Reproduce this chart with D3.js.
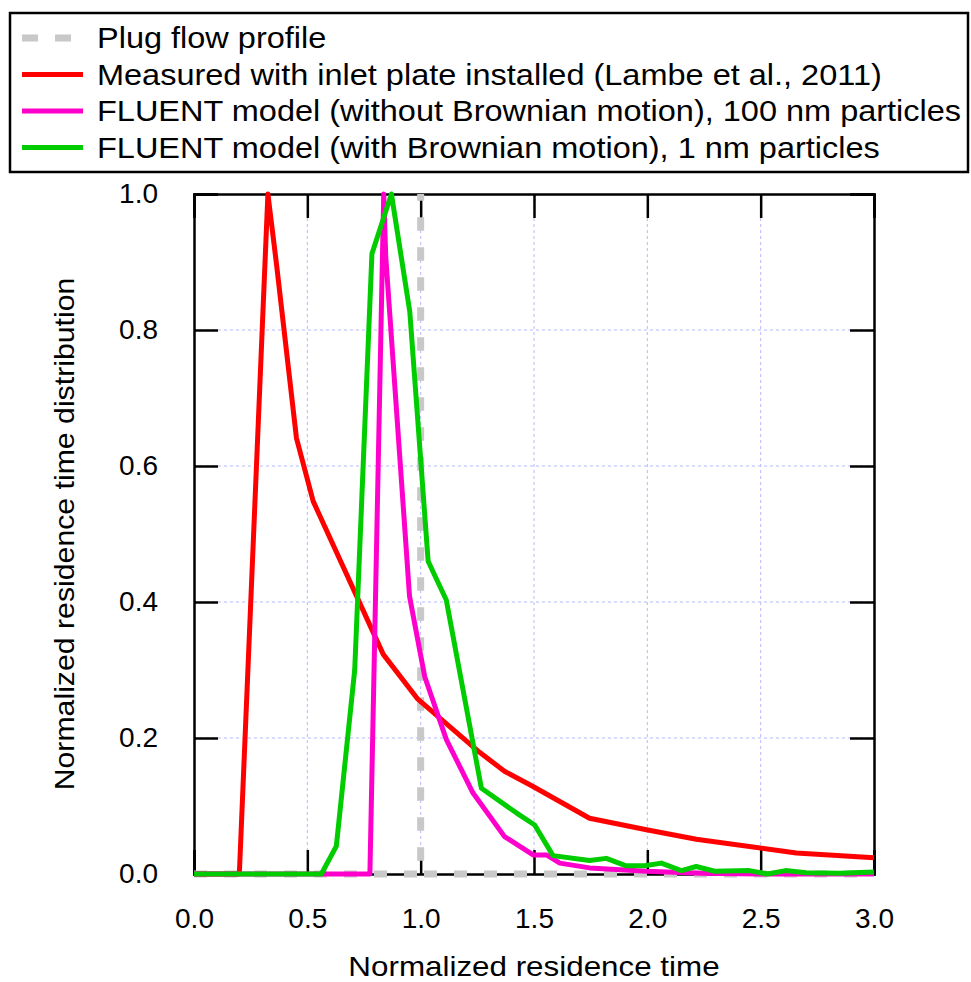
<!DOCTYPE html>
<html>
<head>
<meta charset="utf-8">
<script src="https://cdn.jsdelivr.net/npm/d3@7"></script>
<style>
  body { margin: 0; background: #fff; }
  text { font-family: 'Liberation Sans', Arial, sans-serif; }
</style>
</head>
<body>
<div id="rtd-graph"></div>
<script>
// series: [normalized residence time, normalized RTD]
var plugFlow = [[0, 0], [1.0, 0], [1.0, 1.0], [1.0, 0], [3.0, 0]]
var measured = [
  [0, 0], [0.2, 0], [0.326, 1.0], [0.365, 0.894], [0.452, 0.641], [0.526, 0.548],
  [0.835, 0.323], [0.985, 0.258], [1.26, 0.179], [1.37, 0.151], [1.494, 0.129],
  [1.745, 0.082], [1.996, 0.065], [2.216, 0.051], [2.657, 0.031], [3.0, 0.024]
]
var fluent100 = [
  [0, 0], [0.776, 0], [0.837, 1.0], [0.846, 0.908], [0.951, 0.408], [1.018, 0.29],
  [1.113, 0.198], [1.231, 0.119], [1.37, 0.055], [1.496, 0.028], [1.555, 0.028],
  [1.614, 0.016], [1.745, 0.009], [1.996, 0.004], [2.24, 0.001], [2.5, 0], [3.0, 0]
]
var fluent1 = [
  [0, 0], [0.562, 0], [0.628, 0.041], [0.709, 0.30], [0.785, 0.912], [0.871, 1.0],
  [0.952, 0.827], [1.033, 0.46], [1.113, 0.403], [1.268, 0.126], [1.422, 0.09],
  [1.503, 0.072], [1.584, 0.027], [1.745, 0.02], [1.819, 0.023], [1.907, 0.012],
  [1.988, 0.012], [2.062, 0.016], [2.15, 0.005], [2.216, 0.011], [2.297, 0.004],
  [2.45, 0.005], [2.53, 0], [2.61, 0.005], [2.7, 0.002], [2.85, 0.001], [3.0, 0.003]
]
var legendLabels = [
  'Plug flow profile',
  'Measured with inlet plate installed (Lambe et al., 2011)',
  'FLUENT model (without Brownian motion), 100 nm particles',
  'FLUENT model (with Brownian motion), 1 nm particles'
]
var xTicks = [0, 0.5, 1.0, 1.5, 2.0, 2.5, 3.0]
var yTicks = [0, 0.2, 0.4, 0.6, 0.8, 1.0]

var rtd_margin = { top: 194, bottom: 108, left: 194, right: 97 }
var rtd_width = 680
var rtd_height = 680
// the original text is set a bit wider than Arial
var stretch = 1.12

var svg = d3
  .select('#rtd-graph')
  .append('svg')
  .attr('width', 971)
  .attr('height', 982)

var g = svg
  .append('g')
  .attr('transform', 'translate(' + rtd_margin.left + ',' + rtd_margin.top + ')')

var x = d3.scaleLinear().domain([0, 3]).range([0, rtd_width])
var y = d3.scaleLinear().domain([0, 1]).range([rtd_height, 0])

function widen(sel, k) {
  sel.each(function () {
    var w = this.getComputedTextLength()
    d3.select(this).attr('textLength', w * (k || stretch)).attr('lengthAdjust', 'spacingAndGlyphs')
  })
}

// grid
g.append('g')
  .selectAll('line')
  .data(xTicks.slice(1, -1))
  .enter()
  .append('line')
  .attr('x1', d => x(d)).attr('x2', d => x(d))
  .attr('y1', 0).attr('y2', rtd_height)
  .attr('stroke', '#b8b8ff').attr('stroke-width', 1).attr('stroke-dasharray', '3,3')

g.append('g')
  .selectAll('line')
  .data(yTicks.slice(1, -1))
  .enter()
  .append('line')
  .attr('y1', d => y(d)).attr('y2', d => y(d))
  .attr('x1', 0).attr('x2', rtd_width)
  .attr('stroke', '#b8b8ff').attr('stroke-width', 1).attr('stroke-dasharray', '3,3')

// axes: inward ticks on all four sides
var tickLen = 24
g.append('g')
  .attr('transform', 'translate(0,' + rtd_height + ')')
  .call(d3.axisBottom(x).tickValues(xTicks).tickSize(-tickLen).tickPadding(tickLen + 10).tickFormat(d3.format('.1f')))
g.append('g')
  .call(d3.axisTop(x).tickValues(xTicks).tickSize(-tickLen).tickFormat(''))
g.append('g')
  .call(d3.axisLeft(y).tickValues(yTicks).tickSize(-tickLen).tickPadding(tickLen + 12).tickFormat(d3.format('.1f')))
g.append('g')
  .attr('transform', 'translate(' + rtd_width + ',0)')
  .call(d3.axisRight(y).tickValues(yTicks).tickSize(-tickLen).tickFormat(''))

g.selectAll('.domain').attr('stroke', '#000').attr('stroke-width', 2.5)
g.selectAll('.tick line').attr('stroke', '#000').attr('stroke-width', 2.5)
g.selectAll('.tick text')
  .attr('font-size', 28)
  .attr('fill', '#000')
  .style('font-family', "'Liberation Sans', Arial, sans-serif")

// series
var line = d3.line().x(d => x(d[0])).y(d => y(d[1]))

g.append('path')
  .datum(plugFlow)
  .attr('d', line)
  .attr('fill', 'none')
  .attr('stroke', '#c8c8c8')
  .attr('stroke-width', 7)
  .attr('stroke-dasharray', '13,17')

var series = [
  { data: measured, color: '#ff0000' },
  { data: fluent100, color: '#ff00cc' },
  { data: fluent1, color: '#00cc00' }
]
series.forEach(s => {
  g.append('path')
    .datum(s.data)
    .attr('d', line)
    .attr('fill', 'none')
    .attr('stroke', s.color)
    .attr('stroke-width', 5)
    .attr('stroke-linejoin', 'round')
})

// axis titles
svg.append('text')
  .attr('x', rtd_margin.left + rtd_width / 2)
  .attr('y', 976)
  .attr('text-anchor', 'middle')
  .attr('font-size', 28)
  .text('Normalized residence time')
  .call(widen)

svg.append('text')
  .attr('transform', 'translate(74,' + (rtd_margin.top + rtd_height / 2) + ') rotate(-90)')
  .attr('text-anchor', 'middle')
  .attr('font-size', 28)
  .text('Normalized residence time distribution')
  .call(widen, 1.08)

// legend
var legend = svg.append('g')
legend.append('rect')
  .attr('x', 10).attr('y', 13)
  .attr('width', 958).attr('height', 159)
  .attr('fill', '#fff').attr('stroke', '#000').attr('stroke-width', 2.5)

var legendStyles = [
  { color: '#c8c8c8', dash: '16,17', width: 7 },
  { color: '#ff0000', dash: null, width: 5 },
  { color: '#ff00cc', dash: null, width: 5 },
  { color: '#00cc00', dash: null, width: 5 }
]
legendLabels.forEach((lab, i) => {
  var ly = 38 + i * 36.5
  legend.append('line')
    .attr('x1', 22).attr('x2', 83)
    .attr('y1', ly).attr('y2', ly)
    .attr('stroke', legendStyles[i].color)
    .attr('stroke-width', legendStyles[i].width)
    .attr('stroke-dasharray', legendStyles[i].dash)
  legend.append('text')
    .attr('x', 97).attr('y', ly + 10)
    .attr('font-size', 29)
    .text(lab)
    .call(widen)
})
</script>
</body>
</html>
